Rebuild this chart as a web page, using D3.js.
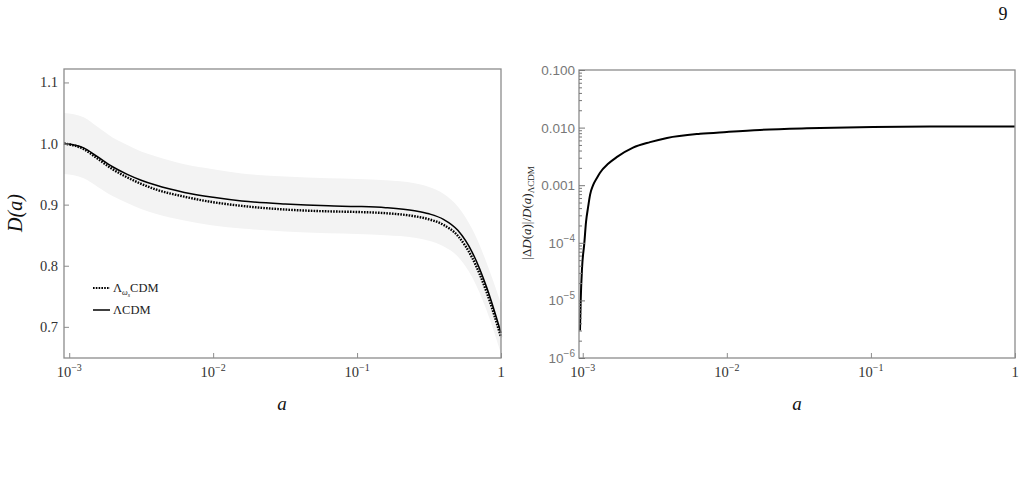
<!DOCTYPE html>
<html>
<head>
<meta charset="utf-8">
<script src="https://cdn.jsdelivr.net/npm/d3@7"></script>
<style>
  body { margin: 0; background: #fff; }
  svg { display: block; }
</style>
</head>
<body>
<svg id="fig" width="1024" height="485"></svg>
<script>
// growth factor, left panel
const aGrid = [0.00092, 0.00126, 0.00158, 0.002, 0.00251, 0.00316, 0.00398, 0.00631, 0.01, 0.0158,
  0.0316, 0.0631, 0.1, 0.158, 0.251, 0.316, 0.398, 0.501, 0.631, 0.794, 1];
const dLCDM = [1.000, 0.993, 0.978, 0.962, 0.950, 0.940, 0.932, 0.920, 0.912, 0.906,
  0.901, 0.898, 0.897, 0.895, 0.890, 0.885, 0.876, 0.858, 0.822, 0.765, 0.690];
const dLwCDM = [1.000, 0.991, 0.975, 0.958, 0.945, 0.934, 0.925, 0.913, 0.904, 0.898,
  0.892, 0.889, 0.888, 0.886, 0.881, 0.876, 0.867, 0.849, 0.813, 0.757, 0.683];
const bandUpper = [1.050, 1.043, 1.027, 1.010, 0.998, 0.987, 0.979, 0.966, 0.958, 0.951,
  0.946, 0.943, 0.942, 0.940, 0.935, 0.929, 0.918, 0.897, 0.860, 0.805, 0.738];
const bandLower = [0.950, 0.943, 0.929, 0.914, 0.903, 0.893, 0.885, 0.874, 0.866, 0.861,
  0.856, 0.853, 0.852, 0.850, 0.846, 0.841, 0.832, 0.815, 0.781, 0.727, 0.656];

// relative difference, right panel
const ratioA = [0.000957, 0.000968, 0.000988, 0.001026, 0.001054, 0.00109, 0.001124, 0.00118,
  0.001257, 0.001318, 0.0015, 0.001731, 0.002234, 0.002931, 0.003845, 0.006521, 0.01,
  0.01698, 0.03597, 0.1033, 0.354, 1];
const ratioVal = [3.0e-6, 1.0e-5, 3.5e-5, 1.0e-4, 2.3e-4, 4.2e-4, 6.8e-4, 1.0e-3,
  1.35e-3, 1.65e-3, 2.35e-3, 3.1e-3, 4.5e-3, 5.6e-3, 6.6e-3, 7.8e-3, 8.4e-3,
  9.1e-3, 9.7e-3, 1.02e-2, 1.045e-2, 1.05e-2];

const xTicks = [0.001, 0.01, 0.1, 1];
const xTickExp = ["\u22123", "\u22122", "\u22121", ""];
const leftYTicks = [0.7, 0.8, 0.9, 1.0, 1.1];
const rightYTicks = [1e-6, 1e-5, 1e-4, 1e-3, 1e-2, 1e-1];
const rightYLabels = [["10", "\u22126"], ["10", "\u22125"], ["10", "\u22124"], ["0.001", ""], ["0.010", ""], ["0.100", ""]];

const serif = "'Liberation Serif', 'DejaVu Serif', serif";
const sans = "'Liberation Sans', Arial, sans-serif";
const frameCol = "#8c8c8c";

const svg = d3.select("#fig");

// page number
svg.append("text").attr("x", 1003).attr("y", 20)
  .attr("font-family", serif).attr("font-size", 18).attr("text-anchor", "middle")
  .attr("fill", "#111").text("9");

function xTickLabels(g, x, y0) {
  xTicks.forEach((t, i) => {
    const txt = g.append("text").attr("x", x(t)).attr("y", y0)
      .attr("font-family", serif).attr("font-size", 14.5).attr("fill", "#333")
      .attr("text-anchor", "middle");
    if (t === 1) { txt.text("1"); return; }
    txt.append("tspan").text("10");
    txt.append("tspan").attr("dy", -6).attr("font-size", 10).text(xTickExp[i]);
  });
}

// ---------- left panel ----------
const L = { x0: 64, x1: 501, y0: 69, y1: 358 };
const xL = d3.scaleLog().domain([0.00092, 1]).range([L.x0, L.x1]);
const yL = d3.scaleLinear().domain([0.649, 1.122]).range([L.y1, L.y0]);
const gL = svg.append("g");

const rowsL = aGrid.map((a, i) => ({ a: a, lc: dLCDM[i], lw: dLwCDM[i], hi: bandUpper[i], lo: bandLower[i] }));

gL.append("path").datum(rowsL)
  .attr("fill", "#f3f3f3")
  .attr("d", d3.area().curve(d3.curveMonotoneX)
    .x(d => xL(d.a)).y0(d => yL(d.lo)).y1(d => yL(d.hi)));

gL.append("path").datum(rowsL)
  .attr("fill", "none").attr("stroke", "#000").attr("stroke-width", 1.5)
  .attr("d", d3.line().curve(d3.curveMonotoneX).x(d => xL(d.a)).y(d => yL(d.lc)));

gL.append("path").datum(rowsL)
  .attr("fill", "none").attr("stroke", "#000").attr("stroke-width", 2.4)
  .attr("stroke-dasharray", "1.6,1.2")
  .attr("d", d3.line().curve(d3.curveMonotoneX).x(d => xL(d.a)).y(d => yL(d.lw)));

gL.append("rect").attr("x", L.x0).attr("y", L.y0)
  .attr("width", L.x1 - L.x0).attr("height", L.y1 - L.y0)
  .attr("fill", "none").attr("stroke", frameCol).attr("stroke-width", 1.3);

const axLY = gL.append("g").attr("transform", `translate(${L.x0},0)`)
  .call(d3.axisRight(yL).tickValues(leftYTicks).tickSize(5).tickFormat(""));
axLY.select(".domain").remove();
axLY.selectAll("line").attr("stroke", frameCol);
leftYTicks.forEach(t => {
  gL.append("text").attr("x", 58).attr("y", yL(t) + 5)
    .attr("text-anchor", "end").attr("font-family", serif).attr("font-size", 14.5)
    .attr("fill", "#333").text(d3.format(".1f")(t));
});

const axLX = gL.append("g").attr("transform", `translate(0,${L.y1})`)
  .call(d3.axisTop(xL).tickValues(xTicks).tickSize(5).tickFormat(""));
axLX.select(".domain").remove();
axLX.selectAll("line").attr("stroke", frameCol);
xTickLabels(gL, xL, 377);

gL.append("text").attr("transform", "translate(22,213) rotate(-90)")
  .attr("text-anchor", "middle").attr("font-family", serif).attr("font-style", "italic")
  .attr("font-size", 20).attr("fill", "#111").text("D(a)");
gL.append("text").attr("x", 282).attr("y", 410)
  .attr("text-anchor", "middle").attr("font-family", serif).attr("font-style", "italic")
  .attr("font-size", 19).attr("fill", "#111").text("a");

// legend
const leg = gL.append("g");
leg.append("line").attr("x1", 93).attr("x2", 110).attr("y1", 288).attr("y2", 288)
  .attr("stroke", "#000").attr("stroke-width", 2.2).attr("stroke-dasharray", "1.6,1.2");
leg.append("line").attr("x1", 93).attr("x2", 110).attr("y1", 310).attr("y2", 310)
  .attr("stroke", "#000").attr("stroke-width", 1.5);
const l1 = leg.append("text").attr("x", 113).attr("y", 292)
  .attr("font-family", serif).attr("font-size", 12.5).attr("fill", "#222");
l1.append("tspan").text("\u039B");
l1.append("tspan").attr("dy", 3).attr("font-size", 8).attr("font-style", "italic").text("\u03C9");
l1.append("tspan").attr("dy", 1.5).attr("font-size", 6).attr("font-style", "italic").text("s");
l1.append("tspan").attr("dy", -4.5).text("CDM");
leg.append("text").attr("x", 113).attr("y", 314)
  .attr("font-family", serif).attr("font-size", 12.5).attr("fill", "#222").text("\u039BCDM");

// ---------- right panel ----------
const R = { x0: 579, x1: 1015, y0: 70, y1: 358 };
const xR = d3.scaleLog().domain([0.000942, 1]).range([R.x0, R.x1]);
const yR = d3.scaleLog().domain([1e-6, 0.1]).range([R.y1, R.y0]);
const gR = svg.append("g");

const rowsR = ratioA.map((a, i) => ({ a: a, v: ratioVal[i] }));
gR.append("path").datum(rowsR)
  .attr("fill", "none").attr("stroke", "#000").attr("stroke-width", 2)
  .attr("d", d3.line().curve(d3.curveMonotoneX).x(d => xR(d.a)).y(d => yR(d.v)));

gR.append("rect").attr("x", R.x0).attr("y", R.y0)
  .attr("width", R.x1 - R.x0).attr("height", R.y1 - R.y0)
  .attr("fill", "none").attr("stroke", frameCol).attr("stroke-width", 1.3);

// minor ticks 2..9 per decade
const minor = [];
rightYTicks.slice(0, -1).forEach(t => { for (let k = 2; k <= 9; k++) minor.push(t * k); });
const axRm = gR.append("g").attr("transform", `translate(${R.x0},0)`)
  .call(d3.axisRight(yR).tickValues(minor).tickSize(3).tickFormat(""));
axRm.select(".domain").remove();
axRm.selectAll("line").attr("stroke", "#777");
const axRY = gR.append("g").attr("transform", `translate(${R.x0},0)`)
  .call(d3.axisRight(yR).tickValues(rightYTicks).tickSize(6).tickFormat(""));
axRY.select(".domain").remove();
axRY.selectAll("line").attr("stroke", "#777");
rightYTicks.forEach((t, i) => {
  const txt = gR.append("text").attr("x", 575).attr("y", yR(t) + 5)
    .attr("text-anchor", "end").attr("font-family", sans).attr("font-size", 13.5)
    .attr("fill", "#777");
  const lab = rightYLabels[i];
  if (lab[1] === "") { txt.text(lab[0]); return; }
  txt.append("tspan").text(lab[0]);
  txt.append("tspan").attr("dy", -6).attr("font-size", 10).text(lab[1]);
});

const axRX = gR.append("g").attr("transform", `translate(0,${R.y1})`)
  .call(d3.axisTop(xR).tickValues(xTicks).tickSize(5).tickFormat(""));
axRX.select(".domain").remove();
axRX.selectAll("line").attr("stroke", frameCol);
xTickLabels(gR, xR, 377);

const yt = gR.append("text").attr("transform", "translate(531,213) rotate(-90)")
  .attr("text-anchor", "middle").attr("font-family", serif).attr("font-size", 13)
  .attr("fill", "#222");
yt.append("tspan").text("|\u0394");
yt.append("tspan").attr("font-style", "italic").text("D");
yt.append("tspan").text("(");
yt.append("tspan").attr("font-style", "italic").text("a");
yt.append("tspan").text(")|/");
yt.append("tspan").attr("font-style", "italic").text("D");
yt.append("tspan").text("(");
yt.append("tspan").attr("font-style", "italic").text("a");
yt.append("tspan").text(")");
yt.append("tspan").attr("dy", 3).attr("font-size", 9).text("\u039BCDM");

gR.append("text").attr("x", 797).attr("y", 410)
  .attr("text-anchor", "middle").attr("font-family", serif).attr("font-style", "italic")
  .attr("font-size", 19).attr("fill", "#111").text("a");
</script>
</body>
</html>
